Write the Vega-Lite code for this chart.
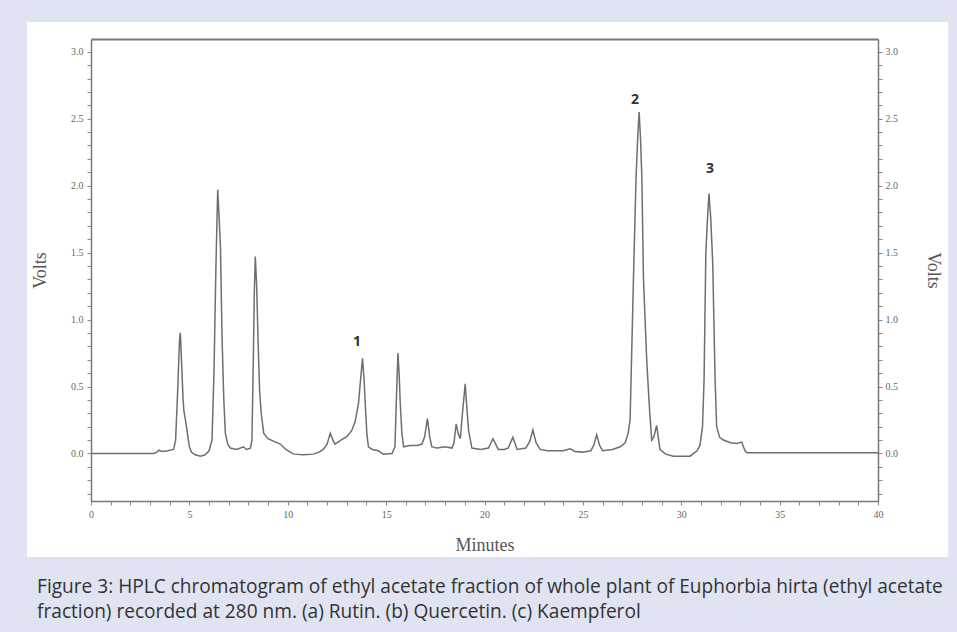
{
  "$schema": "https://vega.github.io/schema/vega-lite/v6.json",
  "width": 787,
  "height": 462,
  "autosize": {"type": "none"},
  "padding": {"left": 91, "top": 39, "right": 79, "bottom": 131},
  "background": "#e0e4f2",
  "config": {
    "view": {"stroke": null},
    "axis": {
      "grid": false,
      "domainColor": "#777777",
      "domainWidth": 1.5,
      "tickColor": "#888888",
      "tickSize": 4,
      "tickWidth": 1,
      "labelFont": "Liberation Serif",
      "labelFontSize": 10,
      "labelColor": "#666666",
      "labelOverlap": false,
      "labelFlush": false,
      "titleFont": "Liberation Serif",
      "titleFontSize": 18,
      "titleFontWeight": "normal",
      "titleColor": "#555555"
    }
  },
  "title": {
    "text": ["Figure 3: HPLC chromatogram of ethyl acetate fraction of whole plant of Euphorbia hirta (ethyl acetate", "fraction) recorded at 280 nm. (a) Rutin. (b) Quercetin. (c) Kaempferol"],
    "orient": "bottom",
    "anchor": "start",
    "frame": "bounds",
    "font": "Open Sans",
    "fontSize": 19.1,
    "fontWeight": "normal",
    "color": "#333333",
    "lineHeight": 25,
    "offset": 21,
    "dx": 10
  },
  "datasets": {
    "trace": [
      {"t": 0, "v": 0}, {"t": 3.2, "v": 0}, {"t": 3.35, "v": 0.01}, {"t": 3.45, "v": 0.025}, {"t": 3.6, "v": 0.015},
      {"t": 3.9, "v": 0.02}, {"t": 4.2, "v": 0.03}, {"t": 4.3, "v": 0.1}, {"t": 4.4, "v": 0.45}, {"t": 4.5, "v": 0.85},
      {"t": 4.54, "v": 0.9}, {"t": 4.6, "v": 0.7}, {"t": 4.68, "v": 0.4}, {"t": 4.72, "v": 0.32}, {"t": 4.8, "v": 0.25},
      {"t": 4.9, "v": 0.15}, {"t": 5.0, "v": 0.05}, {"t": 5.1, "v": 0.01}, {"t": 5.3, "v": -0.01}, {"t": 5.56, "v": -0.02},
      {"t": 5.8, "v": -0.01}, {"t": 6.0, "v": 0.02}, {"t": 6.15, "v": 0.1}, {"t": 6.25, "v": 0.6}, {"t": 6.35, "v": 1.4},
      {"t": 6.44, "v": 1.97}, {"t": 6.5, "v": 1.8}, {"t": 6.58, "v": 1.54}, {"t": 6.66, "v": 0.87}, {"t": 6.75, "v": 0.4},
      {"t": 6.83, "v": 0.15}, {"t": 6.95, "v": 0.07}, {"t": 7.08, "v": 0.04}, {"t": 7.4, "v": 0.03}, {"t": 7.75, "v": 0.05},
      {"t": 7.9, "v": 0.03}, {"t": 8.1, "v": 0.04}, {"t": 8.18, "v": 0.1}, {"t": 8.25, "v": 0.7}, {"t": 8.3, "v": 1.2},
      {"t": 8.35, "v": 1.47}, {"t": 8.42, "v": 1.25}, {"t": 8.5, "v": 0.8}, {"t": 8.57, "v": 0.47}, {"t": 8.65, "v": 0.3},
      {"t": 8.78, "v": 0.15}, {"t": 9.0, "v": 0.11}, {"t": 9.3, "v": 0.09}, {"t": 9.62, "v": 0.07}, {"t": 9.9, "v": 0.03},
      {"t": 10.3, "v": -0.005}, {"t": 10.8, "v": -0.01}, {"t": 11.3, "v": -0.005}, {"t": 11.6, "v": 0.01}, {"t": 11.8, "v": 0.03},
      {"t": 12.0, "v": 0.07}, {"t": 12.16, "v": 0.15}, {"t": 12.3, "v": 0.1}, {"t": 12.4, "v": 0.07}, {"t": 12.7, "v": 0.1},
      {"t": 13.0, "v": 0.125}, {"t": 13.25, "v": 0.17}, {"t": 13.43, "v": 0.24}, {"t": 13.6, "v": 0.38}, {"t": 13.7, "v": 0.55},
      {"t": 13.8, "v": 0.71}, {"t": 13.88, "v": 0.55}, {"t": 13.94, "v": 0.37}, {"t": 14.02, "v": 0.15}, {"t": 14.1, "v": 0.05},
      {"t": 14.3, "v": 0.03}, {"t": 14.6, "v": 0.02}, {"t": 14.86, "v": -0.005}, {"t": 15.3, "v": 0.0}, {"t": 15.45, "v": 0.05},
      {"t": 15.52, "v": 0.4}, {"t": 15.6, "v": 0.75}, {"t": 15.66, "v": 0.6}, {"t": 15.72, "v": 0.37}, {"t": 15.8, "v": 0.15},
      {"t": 15.89, "v": 0.05}, {"t": 16.2, "v": 0.06}, {"t": 16.57, "v": 0.06}, {"t": 16.82, "v": 0.07}, {"t": 16.95, "v": 0.12},
      {"t": 17.1, "v": 0.26}, {"t": 17.22, "v": 0.12}, {"t": 17.32, "v": 0.05}, {"t": 17.58, "v": 0.04}, {"t": 18.0, "v": 0.05},
      {"t": 18.35, "v": 0.04}, {"t": 18.45, "v": 0.08}, {"t": 18.56, "v": 0.22}, {"t": 18.66, "v": 0.15}, {"t": 18.77, "v": 0.11},
      {"t": 18.88, "v": 0.3}, {"t": 19.02, "v": 0.52}, {"t": 19.1, "v": 0.35}, {"t": 19.19, "v": 0.17}, {"t": 19.36, "v": 0.04},
      {"t": 19.8, "v": 0.03}, {"t": 20.2, "v": 0.04}, {"t": 20.43, "v": 0.11}, {"t": 20.7, "v": 0.03}, {"t": 21.0, "v": 0.03},
      {"t": 21.2, "v": 0.04}, {"t": 21.44, "v": 0.12}, {"t": 21.66, "v": 0.03}, {"t": 22.1, "v": 0.04}, {"t": 22.3, "v": 0.09},
      {"t": 22.46, "v": 0.175}, {"t": 22.62, "v": 0.08}, {"t": 22.83, "v": 0.03}, {"t": 23.2, "v": 0.02}, {"t": 24.0, "v": 0.02},
      {"t": 24.35, "v": 0.035}, {"t": 24.6, "v": 0.015}, {"t": 25.0, "v": 0.01}, {"t": 25.4, "v": 0.02}, {"t": 25.55, "v": 0.06},
      {"t": 25.7, "v": 0.14}, {"t": 25.85, "v": 0.06}, {"t": 26.0, "v": 0.02}, {"t": 26.5, "v": 0.03}, {"t": 26.9, "v": 0.05},
      {"t": 27.15, "v": 0.08}, {"t": 27.3, "v": 0.15}, {"t": 27.4, "v": 0.25}, {"t": 27.57, "v": 1.3}, {"t": 27.7, "v": 2.05},
      {"t": 27.8, "v": 2.4}, {"t": 27.86, "v": 2.55}, {"t": 27.93, "v": 2.35}, {"t": 28.0, "v": 2.05}, {"t": 28.08, "v": 1.3},
      {"t": 28.25, "v": 0.68}, {"t": 28.4, "v": 0.3}, {"t": 28.5, "v": 0.1}, {"t": 28.6, "v": 0.12}, {"t": 28.75, "v": 0.21},
      {"t": 28.85, "v": 0.1}, {"t": 28.92, "v": 0.03}, {"t": 29.2, "v": -0.005}, {"t": 29.6, "v": -0.02}, {"t": 30.45, "v": -0.02},
      {"t": 30.8, "v": 0.02}, {"t": 30.95, "v": 0.06}, {"t": 31.08, "v": 0.2}, {"t": 31.16, "v": 0.55}, {"t": 31.25, "v": 1.5},
      {"t": 31.35, "v": 1.8}, {"t": 31.41, "v": 1.94}, {"t": 31.5, "v": 1.75}, {"t": 31.6, "v": 1.42}, {"t": 31.72, "v": 0.55},
      {"t": 31.8, "v": 0.2}, {"t": 31.95, "v": 0.12}, {"t": 32.14, "v": 0.1}, {"t": 32.5, "v": 0.08}, {"t": 32.82, "v": 0.075},
      {"t": 33.07, "v": 0.085}, {"t": 33.24, "v": 0.02}, {"t": 33.35, "v": 0.005}, {"t": 40, "v": 0.005}
    ],
    "peaks": [
      {"t": 13.52, "v": 0.835, "label": "1"},
      {"t": 27.65, "v": 2.64, "label": "2"},
      {"t": 31.46, "v": 2.125, "label": "3"}
    ]
  },
  "layer": [
    {
      "data": {"values": [{}]},
      "mark": {"type": "rect", "color": "#ffffff"},
      "encoding": {
        "x": {"datum": -3.25, "type": "quantitative", "scale": {"domain": [0, 40], "nice": false, "zero": false}, "axis": null},
        "x2": {"datum": 43.57},
        "y": {"datum": -0.773, "type": "quantitative", "scale": {"domain": [-0.355, 3.095], "nice": false, "zero": false}, "axis": null},
        "y2": {"datum": 3.222}
      }
    },
    {
      "data": {"name": "trace"},
      "mark": {"type": "line", "color": "#6e6e6e", "strokeWidth": 1.5},
      "encoding": {
        "x": {
          "field": "t", "type": "quantitative",
          "scale": {"domain": [0, 40], "nice": false, "zero": false},
          "axis": {
            "orient": "bottom", "title": "Minutes", "zindex": 1,
            "values": [0,1,2,3,4,5,6,7,8,9,10,11,12,13,14,15,16,17,18,19,20,21,22,23,24,25,26,27,28,29,30,31,32,33,34,35,36,37,38,39,40],
            "labelExpr": "datum.value % 5 === 0 ? datum.label : ''",
            "labelPadding": 4,
            "titlePadding": 17
          }
        },
        "y": {
          "field": "v", "type": "quantitative",
          "scale": {"domain": [-0.355, 3.095], "nice": false, "zero": false},
          "axis": {
            "orient": "left", "title": "Volts", "zindex": 1,
            "values": [-0.3,-0.2,-0.1,0,0.1,0.2,0.3,0.4,0.5,0.6,0.7,0.8,0.9,1,1.1,1.2,1.3,1.4,1.5,1.6,1.7,1.8,1.9,2,2.1,2.2,2.3,2.4,2.5,2.6,2.7,2.8,2.9,3],
            "labelExpr": "abs(datum.value*2 - round(datum.value*2)) < 0.000001 && datum.value >= 0 ? format(datum.value, '.1f') : ''",
            "labelPadding": 4,
            "titlePadding": 21
          }
        }
      }
    },
    {
      "data": {"name": "peaks"},
      "mark": {"type": "text", "font": "Open Sans", "fontWeight": "bold", "fontSize": 14, "color": "#333333", "baseline": "middle", "align": "center"},
      "encoding": {
        "x": {
          "field": "t", "type": "quantitative",
          "axis": {"orient": "top", "title": null, "labels": false, "ticks": false, "domainWidth": 2, "zindex": 1}
        },
        "y": {
          "field": "v", "type": "quantitative",
          "axis": {
            "orient": "right", "title": "Volts", "titleAngle": 90, "zindex": 1,
            "values": [-0.3,-0.2,-0.1,0,0.1,0.2,0.3,0.4,0.5,0.6,0.7,0.8,0.9,1,1.1,1.2,1.3,1.4,1.5,1.6,1.7,1.8,1.9,2,2.1,2.2,2.3,2.4,2.5,2.6,2.7,2.8,2.9,3],
            "labelExpr": "abs(datum.value*2 - round(datum.value*2)) < 0.000001 && datum.value >= 0 ? format(datum.value, '.1f') : ''",
            "labelPadding": 3,
            "titlePadding": 26
          }
        },
        "text": {"field": "label", "type": "nominal"}
      }
    }
  ]
}
